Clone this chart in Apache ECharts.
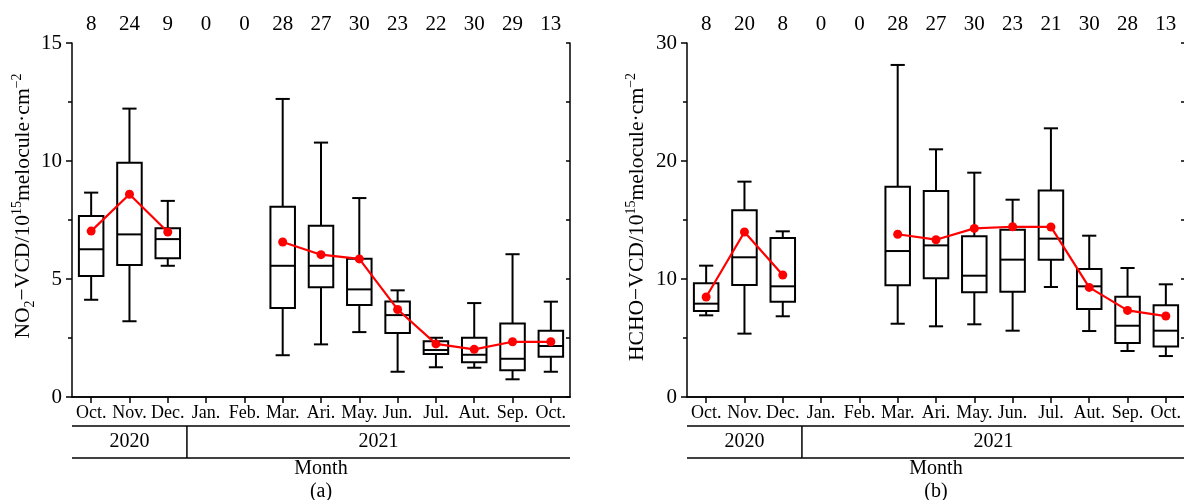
<!DOCTYPE html>
<html>
<head>
<meta charset="utf-8">
<script src="https://cdn.jsdelivr.net/npm/echarts@6/dist/echarts.min.js"></script>
<style>
  html, body { margin: 0; padding: 0; background: #fff; }
  #chart { width: 1184px; height: 500px; }
</style>
</head>
<body>
<div id="chart"></div>
<script>
// Month categories (Oct. 2020 – Oct. 2021)
const months = ['Oct.', 'Nov.', 'Dec.', 'Jan.', 'Feb.', 'Mar.', 'Ari.', 'May.', 'Jun.', 'Jul.', 'Aut.', 'Sep.', 'Oct.'];
const years = ['2020', '2021'];
const yearSpans = [3, 10];

// Number of valid observation days per month
const countsNO2 = [8, 24, 9, 0, 0, 28, 27, 30, 23, 22, 30, 29, 13];
const countsHCHO = [8, 20, 8, 0, 0, 28, 27, 30, 23, 21, 30, 28, 13];

// NO2 VCD statistics (10^15 molecule/cm^2)
const no2Min  = [4.12, 3.21, 5.56, null, null, 1.77, 2.23, 2.75, 1.07, 1.26, 1.24, 0.75, 1.07];
const no2Q1   = [5.13, 5.59, 5.88, null, null, 3.77, 4.65, 3.90, 2.71, 1.82, 1.47, 1.13, 1.71];
const no2Med  = [6.26, 6.89, 6.69, null, null, 5.56, 5.56, 4.56, 3.47, 1.99, 1.79, 1.62, 2.16];
const no2Q3   = [7.67, 9.93, 7.15, null, null, 8.06, 7.26, 5.86, 4.05, 2.36, 2.51, 3.11, 2.81];
const no2Max  = [8.66, 12.22, 8.31, null, null, 12.63, 10.78, 8.43, 4.52, 2.51, 3.98, 6.05, 4.04];
const no2Mean = [7.03, 8.59, 6.99, null, null, 6.57, 6.03, 5.85, 3.71, 2.25, 2.02, 2.34, 2.34];

// HCHO VCD statistics (10^15 molecule/cm^2)
const hchoMin  = [6.92, 5.37, 6.84, null, null, 6.21, 5.99, 6.16, 5.62, 9.32, 5.59, 3.90, 3.47];
const hchoQ1   = [7.29, 9.49, 8.08, null, null, 9.46, 10.06, 8.87, 8.93, 11.64, 7.46, 4.58, 4.29];
const hchoMed  = [7.91, 11.84, 9.38, null, null, 12.37, 12.85, 10.28, 11.64, 13.42, 9.38, 6.04, 5.62];
const hchoQ3   = [9.63, 15.82, 13.47, null, null, 17.82, 17.46, 13.62, 14.18, 17.51, 10.85, 8.50, 7.77];
const hchoMax  = [11.13, 18.25, 14.04, null, null, 28.14, 20.99, 19.01, 16.72, 22.77, 13.67, 10.93, 9.55];
const hchoMean = [8.47, 13.98, 10.34, null, null, 13.79, 13.33, 14.29, 14.43, 14.41, 9.29, 7.34, 6.86];

const FONT = '"Liberation Serif", "Times New Roman", serif';
const BLACK = '#000';

// Plot area geometry for the two panels
const panels = [
  { left: 72, top: 43, width: 498, height: 354, max: 15, major: 5, minor: 2.5,
    counts: countsNO2, stats: [no2Min, no2Q1, no2Med, no2Q3, no2Max], mean: no2Mean,
    titleParts: ['NO', '2', '−VCD/10', '15', 'melocule·cm', '−2'], tag: '(a)',
    nameGap: 32, namePad: [0, 0, 0, 28] },
  { left: 687, top: 43, width: 498, height: 354, max: 30, major: 10, minor: 5,
    counts: countsHCHO, stats: [hchoMin, hchoQ1, hchoMed, hchoQ3, hchoMax], mean: hchoMean,
    titleParts: ['HCHO', '', '−VCD/10', '15', 'melocule·cm', '−2'], tag: '(b)',
    nameGap: 36, namePad: [0, 0, 0, 6] }
];

function boxData(stats) {
  const out = [];
  for (let i = 0; i < months.length; i++) {
    if (stats[0][i] == null) continue;
    out.push([i, stats[0][i], stats[1][i], stats[2][i], stats[3][i], stats[4][i]]);
  }
  return out;
}

function renderBox(params, api) {
  const x = api.value(0);
  const pMin = api.coord([x, api.value(1)]);
  const pQ1 = api.coord([x, api.value(2)]);
  const pMed = api.coord([x, api.value(3)]);
  const pQ3 = api.coord([x, api.value(4)]);
  const pMax = api.coord([x, api.value(5)]);
  const band = api.size([1, 0])[0];
  const bw = band * 0.64;
  const cw = band * 0.37;
  const cx = pMed[0];
  const st = { stroke: BLACK, lineWidth: 2, fill: null };
  return {
    type: 'group',
    children: [
      { type: 'line', shape: { x1: cx, y1: pQ3[1], x2: cx, y2: pMax[1] }, style: st },
      { type: 'line', shape: { x1: cx, y1: pQ1[1], x2: cx, y2: pMin[1] }, style: st },
      { type: 'line', shape: { x1: cx - cw / 2, y1: pMax[1], x2: cx + cw / 2, y2: pMax[1] }, style: st },
      { type: 'line', shape: { x1: cx - cw / 2, y1: pMin[1], x2: cx + cw / 2, y2: pMin[1] }, style: st },
      { type: 'rect', shape: { x: cx - bw / 2, y: pQ3[1], width: bw, height: pQ1[1] - pQ3[1] },
        style: { stroke: BLACK, lineWidth: 2, fill: '#fff' } },
      { type: 'line', shape: { x1: cx - bw / 2, y1: pMed[1], x2: cx + bw / 2, y2: pMed[1] }, style: st }
    ]
  };
}

function axisTitle(parts) {
  let s = '{t|' + parts[0] + '}';
  if (parts[1]) s += '{sub|' + parts[1] + '}';
  s += '{t|' + parts[2] + '}{sup|' + parts[3] + '}{t|' + parts[4] + '}{sup|' + parts[5] + '}';
  return s;
}

const grids = [], xAxes = [], yAxes = [], series = [], graphics = [];

panels.forEach((p, k) => {
  grids.push({ left: p.left, top: p.top, width: p.width, height: p.height,
    containLabel: false, outerBoundsMode: 'none' });

  // bottom month axis
  xAxes.push({
    type: 'category', gridIndex: k, position: 'bottom', data: months,
    axisLine: { show: true, lineStyle: { color: BLACK, width: 1.5 } },
    axisTick: { show: false },
    axisLabel: { interval: 0, color: BLACK, fontFamily: FONT, fontSize: 18, margin: 7 },
    splitLine: { show: false }
  });
  // top axis carrying the day counts
  xAxes.push({
    type: 'category', gridIndex: k, position: 'top', data: p.counts.map(String),
    axisLine: { show: true, lineStyle: { color: BLACK, width: 1.5 } },
    axisTick: { show: true, inside: true, alignWithLabel: true, length: 6,
      lineStyle: { color: BLACK, width: 1.5 } },
    axisLabel: { interval: 0, color: BLACK, fontFamily: FONT, fontSize: 21, margin: 8 },
    splitLine: { show: false }
  });
  // left value axis
  yAxes.push({
    type: 'value', gridIndex: k, position: 'left', min: 0, max: p.max, interval: p.major,
    name: axisTitle(p.titleParts), nameLocation: 'middle', nameRotate: 90, nameGap: p.nameGap,
    nameTextStyle: {
      color: BLACK, fontFamily: FONT, padding: p.namePad,
      rich: {
        t: { fontSize: 21.6, lineHeight: 27, fontFamily: FONT, color: BLACK },
        sub: { fontSize: 14, lineHeight: 14, verticalAlign: 'bottom', fontFamily: FONT, color: BLACK },
        sup: { fontSize: 14, lineHeight: 14, verticalAlign: 'top', fontFamily: FONT, color: BLACK }
      }
    },
    axisLine: { show: true, lineStyle: { color: BLACK, width: 1.5 } },
    axisTick: { show: true, inside: false, length: 6, lineStyle: { color: BLACK, width: 1.5 } },
    minorTick: { show: true, splitNumber: 2, length: 4, lineStyle: { color: BLACK, width: 1.5 } },
    axisLabel: { color: BLACK, fontFamily: FONT, fontSize: 21, margin: 10 },
    splitLine: { show: false }, minorSplitLine: { show: false }
  });
  // right frame axis
  yAxes.push({
    type: 'value', gridIndex: k, position: 'right', min: 0, max: p.max, interval: p.minor,
    axisLine: { show: true, lineStyle: { color: BLACK, width: 1.5 } },
    axisTick: { show: true, inside: true, length: 4, lineStyle: { color: BLACK, width: 1.5 } },
    axisLabel: { show: false },
    splitLine: { show: false }
  });

  series.push({
    type: 'custom', xAxisIndex: 2 * k, yAxisIndex: 2 * k,
    data: boxData(p.stats), encode: { x: 0, y: [1, 2, 3, 4, 5] },
    renderItem: renderBox, z: 2, silent: true
  });
  series.push({
    type: 'line', xAxisIndex: 2 * k, yAxisIndex: 2 * k, data: p.mean,
    connectNulls: false, symbol: 'circle', symbolSize: 9, showSymbol: true,
    lineStyle: { color: '#ff0000', width: 2.2 }, itemStyle: { color: '#ff0000' },
    z: 5, silent: true
  });

  // year band and axis caption under the month labels
  const band = p.width / months.length;
  const base = p.top + p.height;
  const x0 = p.left, x1 = p.left + p.width;
  const yL1 = base + 29, yL2 = base + 61;
  const lineStyle = { stroke: BLACK, lineWidth: 1.5 };
  graphics.push({ type: 'line', shape: { x1: x0, y1: yL1, x2: x1, y2: yL1 }, style: lineStyle, silent: true });
  graphics.push({ type: 'line', shape: { x1: x0, y1: yL2, x2: x1, y2: yL2 }, style: lineStyle, silent: true });
  let acc = 0;
  yearSpans.forEach((n, j) => {
    const xa = x0 + acc * band, xb = x0 + (acc + n) * band;
    if (j > 0) {
      graphics.push({ type: 'line', shape: { x1: xa, y1: yL1, x2: xa, y2: yL2 }, style: lineStyle, silent: true });
    }
    graphics.push({ type: 'text', x: (xa + xb) / 2, y: (yL1 + yL2) / 2, silent: true,
      style: { text: years[j], font: '20px ' + FONT, fill: BLACK, align: 'center', verticalAlign: 'middle' } });
    acc += n;
  });
  graphics.push({ type: 'text', x: (x0 + x1) / 2, y: base + 72, silent: true,
    style: { text: 'Month', font: '20px ' + FONT, fill: BLACK, align: 'center', verticalAlign: 'middle' } });
  graphics.push({ type: 'text', x: (x0 + x1) / 2, y: base + 95, silent: true,
    style: { text: p.tag, font: '20px ' + FONT, fill: BLACK, align: 'center', verticalAlign: 'middle' } });
});

const chart = echarts.init(document.getElementById('chart'), null, { renderer: 'canvas' });
chart.setOption({
  backgroundColor: '#fff',
  animation: false,
  grid: grids,
  xAxis: xAxes,
  yAxis: yAxes,
  series: series,
  graphic: graphics
});
</script>
</body>
</html>
